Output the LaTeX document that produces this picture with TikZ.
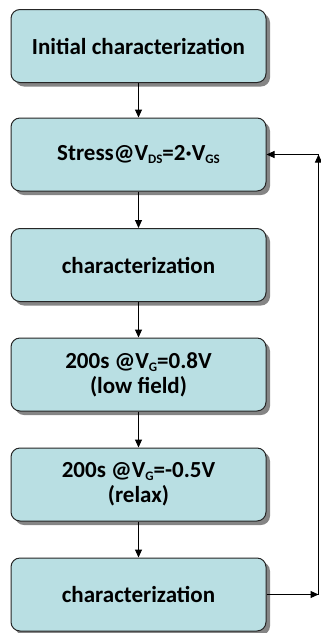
\documentclass[tikz,border=0pt]{standalone}
\usepackage{fontspec}
\setmainfont{Carlito}
\usetikzlibrary{arrows.meta,shadows}
\definecolor{boxfill}{HTML}{B9DFE3}
\definecolor{shadowgray}{HTML}{858585}
\newcommand{\mysub}[1]{\raisebox{-0.28ex}{\fontsize{13}{13}\selectfont #1}}
\begin{document}
\begin{tikzpicture}[x=1pt,y=-1pt,
  stepbox/.style={draw=black!85, line width=1pt, fill=boxfill, rounded corners=9pt,
    minimum width=255pt, minimum height=73pt, inner sep=0pt, align=center,
    font=\fontsize{23}{25}\selectfont\bfseries,
    drop shadow={shadow xshift=4pt, shadow yshift=-4pt, fill=shadowgray, opacity=1}},
  arr/.style={draw=black, line width=1pt, -{Triangle[length=8pt,width=7pt]}}]
\useasboundingbox (0,0) rectangle (321,633);
\node[stepbox] (b1) at (138.5,46) {Initial characterization};
\node[stepbox] (b2) at (138.5,154.5) {Stress@V\mysub{DS}=2·V\mysub{GS}};
\node[stepbox] (b3) at (138.5,265) {characterization};
\node[stepbox] (b4) at (138.5,374.5) {200s @V\mysub{G}=0.8V\\(low field)};
\node[stepbox] (b5) at (138.5,484.5) {200s @V\mysub{G}=-0.5V\\(relax)};
\node[stepbox] (b6) at (138.5,594.5) {characterization};
\coordinate (c1) at (318.5,594.5);
\coordinate (c2) at (318.5,154.5);
\draw[arr] (b1) -- (b2);
\draw[arr] (b2) -- (b3);
\draw[arr] (b3) -- (b4);
\draw[arr] (b4) -- (b5);
\draw[arr] (b5) -- (b6);
\draw[arr] (b6.east) -- (c1);
\draw[arr] (c1) -- (c2);
\draw[arr] (c2) -- (b2.east);
\end{tikzpicture}
\end{document}
